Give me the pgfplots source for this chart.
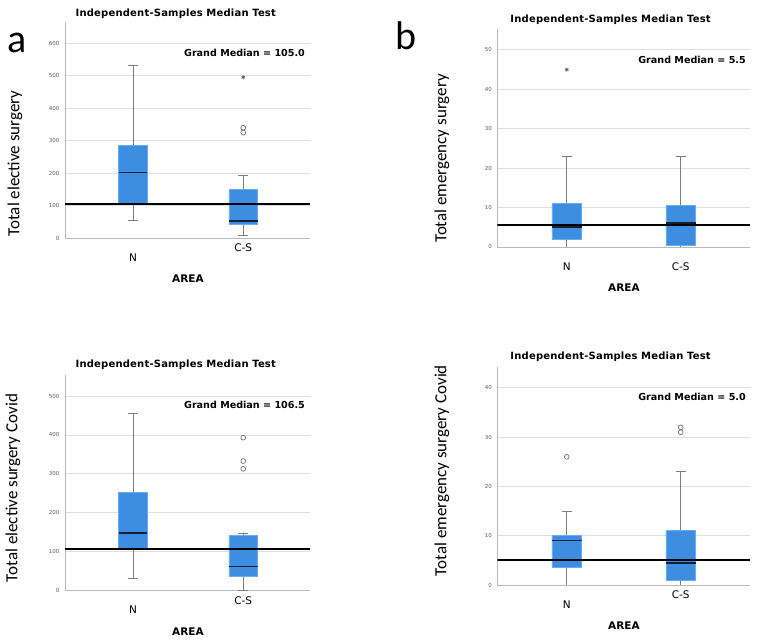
\documentclass[border=0pt]{standalone}
\usepackage{pgfplots}
\pgfplotsset{compat=1.18}
\usepackage{fontspec}
\setmainfont{DejaVu Sans}
\newfontfamily\calib{Carlito}

\definecolor{boxblue}{RGB}{61,142,224}
\definecolor{boxedge}{RGB}{105,172,240}
\definecolor{mednavy}{RGB}{20,30,50}
\definecolor{whiskgray}{RGB}{125,125,125}
\definecolor{outgray}{RGB}{110,110,110}

\tikzset{gmtext/.style={anchor=east, inner sep=0pt, font=\bfseries\fontsize{9.6}{11}\selectfont}}

\pgfplotsset{
  spss/.style={
    scale only axis,
    axis lines*=left,
    axis line style={draw=gray!55, line width=0.9pt},
    ymajorgrids,
    grid style={draw=gray!25, line width=0.9pt},
    major tick length=0pt,
    ymin=0,
    enlargelimits=false,
    unbounded coords=jump,
    /pgf/number format/assume math mode=true,
    yticklabel style={font=\fontsize{5.5}{6}\selectfont, text=gray!70!black, xshift=-2pt},
    xtick={1}, xticklabels={N},
    xticklabel style={font=\fontsize{10.5}{12}\selectfont, yshift=-12pt},
    extra x ticks={2}, extra x tick labels={C-S},
    xlabel={AREA},
    xlabel style={font=\bfseries\fontsize{10.5}{12}\selectfont, anchor=center},
    ylabel style={font=\calib\fontsize{17}{18}\selectfont, anchor=center},
    title={Independent-Samples Median Test},
    every axis title shift=0pt,
    title style={font=\bfseries\fontsize{10}{12}\selectfont\addfontfeature{LetterSpace=2},
      anchor=west},
  },
  raisecs/.style={extra x tick style={grid=none, xticklabel style={yshift=10pt}}},
  flatcs/.style={extra x tick style={grid=none}},
  whisk/.style={draw=whiskgray, line width=0.8pt, mark=none},
  boxf/.style={fill=boxblue, draw=boxedge, line width=0.7pt, mark=none},
  med/.style={draw=mednavy, line width=1.7pt, mark=none},
  circs/.style={only marks, mark=o, mark size=2.4pt, draw=outgray, fill=white, line width=0.7pt},
  stars/.style={only marks, mark=asterisk, mark size=2pt, draw=outgray!80!black, line width=0.7pt},
  gm/.style={black, line width=2.2pt, mark=none},
}

\begin{document}
\begin{tikzpicture}
\path[use as bounding box] (0pt,0pt) rectangle (758pt,642pt);

% ---------- panel a ----------
\begin{axis}[spss, raisecs,
  at={(65pt,403.7pt)}, anchor=south west,
  width=245pt, height=216.3pt,
  xmin=0.384, xmax=2.605, ymax=665,
  ytick={0,100,...,600},
  ylabel={Total elective surgery},
  ylabel style={at={(axis description cs:-0.204,0.346)}},
  xlabel style={at={(axis description cs:0.502,-0.188)}},
  title style={at={(axis description cs:0.029,1.036)}},
]
% N: lw 56, q1 107, median 202, q3 285, uw 533
\addplot[whisk] coordinates {(1,56) (1,107) (1,nan) (1,285) (1,533) (1,nan)
  (0.955,56) (1.045,56) (1,nan) (0.955,533) (1.045,533)};
\addplot[boxf] coordinates {(0.87,107) (1.13,107) (1.13,285) (0.87,285) (0.87,107)};
\addplot[med] coordinates {(0.87,202) (1.13,202)};
% C-S: lw 10, q1 44, median 54, q3 149, uw 192
\addplot[whisk] coordinates {(2,10) (2,44) (2,nan) (2,149) (2,192) (2,nan)
  (1.955,10) (2.045,10) (2,nan) (1.955,192) (2.045,192)};
\addplot[boxf] coordinates {(1.87,44) (2.13,44) (2.13,149) (1.87,149) (1.87,44)};
\addplot[med] coordinates {(1.87,54) (2.13,54)};
\addplot[circs] coordinates {(2,325) (2,340)};
\addplot[stars] coordinates {(2,495)};
\addplot[gm] coordinates {(0.384,105) (2.605,105)};
\node[gmtext] at (rel axis cs:0.98,0.857) {Grand Median = 105.0};
\end{axis}

% ---------- panel b ----------
\begin{axis}[spss, flatcs,
  at={(497.3pt,395pt)}, anchor=south west,
  width=252.7pt, height=218pt,
  xmin=0.391, xmax=2.608, ymax=55.3,
  ytick={0,10,...,50},
  ylabel={Total emergency surgery},
  ylabel style={at={(axis description cs:-0.219,0.406)}},
  xlabel style={at={(axis description cs:0.501,-0.188)}},
  title style={at={(axis description cs:0.038,1.041)}},
]
% N: lw 0, q1 2, median 5, q3 11, uw 23
\addplot[whisk] coordinates {(1,0) (1,2) (1,nan) (1,11) (1,23) (1,nan)
  (0.955,0) (1.045,0) (1,nan) (0.955,23) (1.045,23)};
\addplot[boxf] coordinates {(0.87,2) (1.13,2) (1.13,11) (0.87,11) (0.87,2)};
\addplot[med] coordinates {(0.87,5) (1.13,5)};
% C-S: lw 0, q1 0.5, median 6, q3 10.5, uw 23
\addplot[whisk] coordinates {(2,0) (2,0.5) (2,nan) (2,10.5) (2,23) (2,nan)
  (1.955,0) (2.045,0) (2,nan) (1.955,23) (2.045,23)};
\addplot[boxf] coordinates {(1.87,0.5) (2.13,0.5) (2.13,10.5) (1.87,10.5) (1.87,0.5)};
\addplot[med] coordinates {(1.87,6) (2.13,6)};
\addplot[stars] coordinates {(1,45)};
\addplot[gm] coordinates {(0.391,5.5) (2.608,5.5)};
\node[gmtext] at (rel axis cs:0.984,0.858) {Grand Median = 5.5};
\end{axis}

% ---------- panel c ----------
\begin{axis}[spss, raisecs,
  at={(65pt,51.3pt)}, anchor=south west,
  width=245pt, height=215.7pt,
  xmin=0.384, xmax=2.605, ymax=554,
  ytick={0,100,...,500},
  ylabel={Total elective surgery Covid},
  ylabel style={at={(axis description cs:-0.212,0.476)}},
  xlabel style={at={(axis description cs:0.502,-0.19)}},
  title style={at={(axis description cs:0.029,1.046)}},
]
% N: lw 32, q1 106, median 149, q3 252, uw 456
\addplot[whisk] coordinates {(1,32) (1,106) (1,nan) (1,252) (1,456) (1,nan)
  (0.955,32) (1.045,32) (1,nan) (0.955,456) (1.045,456)};
\addplot[boxf] coordinates {(0.87,106) (1.13,106) (1.13,252) (0.87,252) (0.87,106)};
\addplot[med] coordinates {(0.87,149) (1.13,149)};
% C-S: lw 1, q1 38, median 62, q3 141, uw 147
\addplot[whisk] coordinates {(2,1) (2,38) (2,nan) (2,141) (2,147) (2,nan)
  (1.955,1) (2.045,1) (2,nan) (1.955,147) (2.045,147)};
\addplot[boxf] coordinates {(1.87,38) (2.13,38) (2.13,141) (1.87,141) (1.87,38)};
\addplot[med] coordinates {(1.87,62) (2.13,62)};
\addplot[circs] coordinates {(2,313) (2,333) (2,393)};
\addplot[gm] coordinates {(0.384,106.5) (2.605,106.5)};
\node[gmtext] at (rel axis cs:0.98,0.861) {Grand Median = 106.5};
\end{axis}

% ---------- panel d ----------
\begin{axis}[spss, raisecs,
  at={(497.3pt,57pt)}, anchor=south west,
  width=252.7pt, height=218.3pt,
  xmin=0.391, xmax=2.608, ymax=44.3,
  ytick={0,10,...,40},
  ylabel={Total emergency surgery Covid},
  ylabel style={at={(axis description cs:-0.219,0.524)}},
  xlabel style={at={(axis description cs:0.501,-0.188)}},
  title style={at={(axis description cs:0.038,1.044)}},
]
% N: lw 0, q1 3.6, median 9, q3 10, uw 15
\addplot[whisk] coordinates {(1,0) (1,3.6) (1,nan) (1,10) (1,15) (1,nan)
  (0.955,0) (1.045,0) (1,nan) (0.955,15) (1.045,15)};
\addplot[boxf] coordinates {(0.87,3.6) (1.13,3.6) (1.13,10) (0.87,10) (0.87,3.6)};
\addplot[med] coordinates {(0.87,9) (1.13,9)};
% C-S: lw 0, q1 1, median 4.5, q3 11, uw 23
\addplot[whisk] coordinates {(2,0) (2,1) (2,nan) (2,11) (2,23) (2,nan)
  (1.955,0) (2.045,0) (2,nan) (1.955,23) (2.045,23)};
\addplot[boxf] coordinates {(1.87,1) (2.13,1) (2.13,11) (1.87,11) (1.87,1)};
\addplot[med] coordinates {(1.87,4.5) (2.13,4.5)};
\addplot[circs] coordinates {(1,26) (2,31) (2,32)};
\addplot[gm] coordinates {(0.391,5) (2.608,5)};
\node[gmtext] at (rel axis cs:0.984,0.861) {Grand Median = 5.0};
\end{axis}

\node[anchor=base west, inner sep=0pt, font=\calib\fontsize{40}{40}\selectfont] at (7pt,589pt) {a};
\node[anchor=base west, inner sep=0pt, font=\calib\fontsize{40}{40}\selectfont] at (395pt,592pt) {b};
\end{tikzpicture}
\end{document}
